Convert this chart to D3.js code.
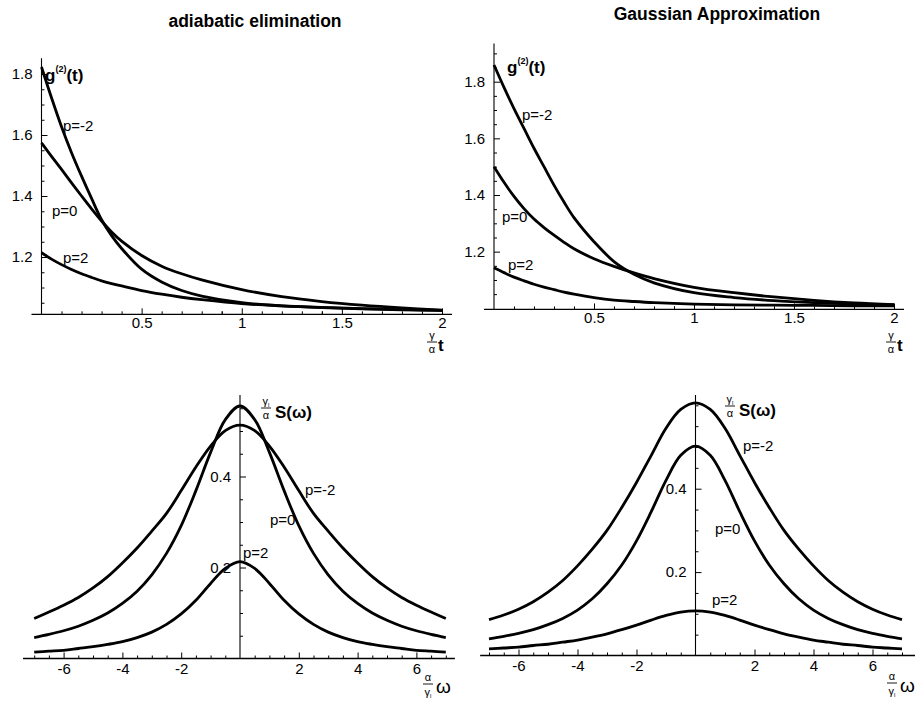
<!DOCTYPE html>
<html>
<head>
    <meta charset="utf-8">
    <title>g2 and spectra</title>
    <script src="https://cdn.jsdelivr.net/npm/d3@7"></script>
    <style>
        body { margin: 0; background: #fff; }
        text { font-family: "Liberation Sans", Arial, Helvetica, sans-serif; }
    </style>
</head>
<body>
<svg width="917" height="702" id="mainsvg"></svg>
<script>
    const svg = d3.select('#mainsvg');

    // ---- data ----
    // top panels: g2(t) against (gamma/alpha) t
    const tGrid = [0, 0.05, 0.1, 0.15, 0.2, 0.25, 0.3, 0.35, 0.4, 0.5, 0.6, 0.7, 0.8, 1.0, 1.2, 1.4, 1.6, 1.8, 2.0];
    const adiabG2m2 = [1.823, 1.722, 1.627, 1.542, 1.465, 1.392, 1.322, 1.27, 1.228, 1.16, 1.118, 1.09, 1.072, 1.05, 1.04, 1.034, 1.03, 1.027, 1.025];
    const adiabG20  = [1.574, 1.53, 1.487, 1.443, 1.40, 1.358, 1.318, 1.282, 1.252, 1.205, 1.17, 1.145, 1.125, 1.093, 1.07, 1.054, 1.042, 1.033, 1.026];
    const adiabG2p2 = [1.214, 1.193, 1.175, 1.159, 1.145, 1.133, 1.122, 1.113, 1.105, 1.09, 1.078, 1.068, 1.06, 1.047, 1.04, 1.035, 1.031, 1.028, 1.025];
    const gaussG2m2 = [1.859, 1.78, 1.705, 1.635, 1.565, 1.50, 1.435, 1.375, 1.32, 1.235, 1.165, 1.12, 1.09, 1.055, 1.038, 1.027, 1.02, 1.015, 1.012];
    const gaussG20  = [1.50, 1.445, 1.395, 1.352, 1.315, 1.285, 1.258, 1.233, 1.21, 1.175, 1.148, 1.125, 1.105, 1.074, 1.055, 1.04, 1.028, 1.019, 1.013];
    const gaussG2p2 = [1.143, 1.126, 1.11, 1.097, 1.085, 1.075, 1.066, 1.057, 1.05, 1.038, 1.029, 1.024, 1.02, 1.015, 1.012, 1.011, 1.01, 1.009, 1.009];

    // bottom panels: (gamma/alpha) S(w) against (alpha/gamma) w
    const wGrid = [-7, -6.5, -6, -5.5, -5, -4.5, -4, -3.5, -3, -2.5, -2, -1.5, -1, -0.5, 0, 0.5, 1, 1.5, 2, 2.5, 3, 3.5, 4, 4.5, 5, 5.5, 6, 6.5, 7];
    const adiabSm2 = [0.088, 0.102, 0.117, 0.134, 0.155, 0.18, 0.21, 0.243, 0.28, 0.319, 0.369, 0.421, 0.467, 0.501, 0.513, 0.501, 0.467, 0.421, 0.369, 0.319, 0.28, 0.243, 0.21, 0.18, 0.155, 0.134, 0.117, 0.102, 0.088];
    const adiabS0  = [0.046, 0.053, 0.061, 0.071, 0.084, 0.100, 0.121, 0.148, 0.184, 0.231, 0.292, 0.369, 0.453, 0.525, 0.555, 0.525, 0.453, 0.369, 0.292, 0.231, 0.184, 0.148, 0.121, 0.100, 0.084, 0.071, 0.061, 0.053, 0.046];
    const adiabSp2 = [0.014, 0.016, 0.018, 0.022, 0.026, 0.031, 0.037, 0.046, 0.058, 0.075, 0.098, 0.128, 0.165, 0.198, 0.213, 0.198, 0.165, 0.128, 0.098, 0.075, 0.058, 0.046, 0.037, 0.031, 0.026, 0.022, 0.018, 0.016, 0.014];
    const gaussSm2 = [0.086, 0.097, 0.111, 0.129, 0.152, 0.18, 0.215, 0.255, 0.30, 0.355, 0.415, 0.48, 0.545, 0.59, 0.606, 0.59, 0.545, 0.48, 0.415, 0.355, 0.30, 0.255, 0.215, 0.18, 0.152, 0.129, 0.111, 0.097, 0.086];
    const gaussS0  = [0.040, 0.046, 0.053, 0.062, 0.074, 0.089, 0.109, 0.136, 0.172, 0.217, 0.275, 0.345, 0.42, 0.48, 0.502, 0.48, 0.42, 0.345, 0.275, 0.217, 0.172, 0.136, 0.109, 0.089, 0.074, 0.062, 0.053, 0.046, 0.040];
    const gaussSp2 = [0.016, 0.018, 0.020, 0.024, 0.027, 0.032, 0.037, 0.044, 0.052, 0.062, 0.073, 0.085, 0.096, 0.104, 0.107, 0.104, 0.096, 0.085, 0.073, 0.062, 0.052, 0.044, 0.037, 0.032, 0.027, 0.024, 0.020, 0.018, 0.016];

    const tTicks = [0.5, 1, 1.5, 2];
    const g2Ticks = [1.2, 1.4, 1.6, 1.8];
    const wTicks = [-6, -4, -2, 2, 4, 6];
    const sTicks = [0.2, 0.4];
    const titles = ['adiabatic elimination', 'Gaussian Approximation'];

    // ---- panel layout ----
    const panels = [
        { x: [0, 2], xr: [41.5, 442], y: [1, 1.8], yr: [318, 74], y0: 1.012, x0: 0,
          xExt: [-0.05, 2.05], yTop: 1.852, xt: tTicks, yt: g2Ticks, xMinor: 0.1, yMinor: 0.05, xPad: 3,
          grid: tGrid, series: [adiabG2m2, adiabG20, adiabG2p2],
          labels: [['p=-2', 63, 131], ['p=0', 52, 216], ['p=2', 63, 263]],
          ylab: [45, 81], title: [titles[0], 255, 27], xlab: 'top', xlabPos: [432, 438] },
        { x: [0, 2], xr: [494, 894], y: [1, 1.8], yr: [308.3, 81.7], y0: 0.996, x0: 0,
          xExt: [-0.05, 2.05], yTop: 1.935, xt: tTicks, yt: g2Ticks, xMinor: 0.1, yMinor: 0.05, xPad: 3,
          grid: tGrid, series: [gaussG2m2, gaussG20, gaussG2p2],
          labels: [['p=-2', 522, 120], ['p=0', 502, 222], ['p=2', 508, 270]],
          ylab: [507, 73], title: [titles[1], 717, 20], xlab: 'top', xlabPos: [891, 897] },
        { x: [-7, 7], xr: [34.2, 445.8], y: [0, 0.4], yr: [658.5, 476.5], y0: 0, x0: 0,
          xExt: [-7.38, 7.31], yTop: 0.579, xt: wTicks, yt: sTicks, xMinor: 0.5, yMinor: 0.05, xPad: 5,
          grid: wGrid, series: [adiabSm2, adiabS0, adiabSp2],
          labels: [['p=-2', 305, 495], ['p=0', 270, 525], ['p=2', 243, 558]],
          ylab: [266, 418], xlab: 'bottom', xlabPos: [428, 436, 695] },
        { x: [-7, 7], xr: [489, 902], y: [0, 0.4], yr: [655.5, 488.7], y0: 0, x0: 0,
          xExt: [-7.3, 7.44], yTop: 0.625, xt: wTicks, yt: sTicks, xMinor: 0.5, yMinor: 0.05, xPad: 5,
          grid: wGrid, series: [gaussSm2, gaussS0, gaussSp2],
          labels: [['p=-2', 743, 451], ['p=0', 715, 534], ['p=2', 712, 605]],
          ylab: [730, 416], xlab: 'bottom', xlabPos: [892, 900, 694] }
    ];

    function fraction(g, cx, top, bottom, yTop, yLine, yBot) {
        const t = g.append('text').attr('x', cx).attr('y', yTop).attr('text-anchor', 'middle')
            .attr('font-size', 11).text(top[0]);
        if (top[1]) t.append('tspan').attr('font-size', 6).attr('dy', 2).text(top[1]);
        g.append('line').attr('x1', cx - 5).attr('x2', cx + 5).attr('y1', yLine).attr('y2', yLine)
            .attr('stroke', '#000').attr('stroke-width', 0.9);
        const b = g.append('text').attr('x', cx).attr('y', yBot).attr('text-anchor', 'middle')
            .attr('font-size', 11).text(bottom[0]);
        if (bottom[1]) b.append('tspan').attr('font-size', 6).attr('dy', 2).text(bottom[1]);
    }

    panels.forEach(p => {
        const g = svg.append('g');
        const x = d3.scaleLinear().domain(p.x).range(p.xr);
        const y = d3.scaleLinear().domain(p.y).range(p.yr);
        const ax = y(p.y0), ay = x(p.x0);

        // axis lines
        g.append('line').attr('x1', x(p.xExt[0])).attr('x2', x(p.xExt[1]))
            .attr('y1', ax).attr('y2', ax).attr('stroke', '#000').attr('stroke-width', 1.3);
        g.append('line').attr('x1', ay).attr('x2', ay)
            .attr('y1', ax).attr('y2', y(p.yTop)).attr('stroke', '#000').attr('stroke-width', 1.1);

        const fmt = d => String(d);
        const xMinors = d3.range(p.xExt[0], p.xExt[1], p.xMinor).map(v => Math.round(v / p.xMinor) * p.xMinor)
            .filter(v => v > p.xExt[0] && v < p.xExt[1] && Math.abs(v) > 1e-9 && !p.xt.some(t => Math.abs(t - v) < 1e-9));
        const yMinors = d3.range(p.y0, p.yTop, p.yMinor).map(v => Math.round(v / p.yMinor) * p.yMinor)
            .filter(v => v > p.y0 + 0.01 && v < p.yTop && !p.yt.some(t => Math.abs(t - v) < 1e-9));

        g.append('g').attr('transform', `translate(0,${ax})`)
            .call(d3.axisBottom(x).tickValues(p.xt).tickSize(-6).tickPadding(p.xPad).tickFormat(fmt))
            .call(s => s.select('.domain').remove())
            .attr('font-size', 15).attr('font-family', null);
        g.append('g').attr('transform', `translate(0,${ax})`)
            .call(d3.axisBottom(x).tickValues(xMinors).tickSize(-3).tickFormat(''))
            .call(s => s.select('.domain').remove());
        g.append('g').attr('transform', `translate(${ay},0)`)
            .call(d3.axisLeft(y).tickValues(p.yt).tickSize(-6).tickPadding(9).tickFormat(fmt))
            .call(s => s.select('.domain').remove())
            .attr('font-size', 15).attr('font-family', null);
        g.append('g').attr('transform', `translate(${ay},0)`)
            .call(d3.axisLeft(y).tickValues(yMinors).tickSize(-3).tickFormat(''))
            .call(s => s.select('.domain').remove());
        g.selectAll('.tick line').attr('stroke-width', 1);

        // curves
        const line = d3.line().x((d, k) => x(p.grid[k])).y(d => y(d)).curve(d3.curveCatmullRom.alpha(0.5));
        p.series.forEach(s => {
            g.append('path').attr('d', line(s)).attr('fill', 'none')
                .attr('stroke', '#000').attr('stroke-width', 2.8).attr('stroke-linejoin', 'round');
        });

        // curve labels
        p.labels.forEach(l => {
            g.append('text').attr('x', l[1]).attr('y', l[2]).attr('font-size', 15).text(l[0]);
        });

        // titles
        if (p.title) {
            g.append('text').attr('x', p.title[1]).attr('y', p.title[2]).attr('text-anchor', 'middle')
                .attr('font-size', 17.5).attr('font-weight', 'bold').text(p.title[0]);
        }

        // axis titles
        if (p.xlab === 'top') {
            const yl = g.append('text').attr('x', p.ylab[0]).attr('y', p.ylab[1])
                .attr('font-size', 17).attr('font-weight', 'bold');
            yl.append('tspan').text('g');
            yl.append('tspan').attr('font-size', 9).attr('dy', -9).text('(2)');
            yl.append('tspan').attr('dy', 9).text('(t)');
            fraction(g, p.xlabPos[0], ['γ'], ['α'], 339, 342, 353);
            g.append('text').attr('x', p.xlabPos[1]).attr('y', 351).attr('font-size', 17)
                .attr('font-weight', 'bold').text('t');
        } else {
            fraction(g, p.ylab[0], ['γ', 'l'], ['α'], p.ylab[1] - 13, p.ylab[1] - 10, p.ylab[1] + 1);
            g.append('text').attr('x', p.ylab[0] + 9).attr('y', p.ylab[1]).attr('font-size', 17)
                .attr('font-weight', 'bold').text('S(ω)');
            const yb = p.xlabPos[2];
            fraction(g, p.xlabPos[0], ['α'], ['γ', 'l'], yb - 14, yb - 11, yb + 1);
            g.append('text').attr('x', p.xlabPos[1]).attr('y', yb - 2).attr('font-size', 19).text('ω');
        }
    });
</script>
</body>
</html>
